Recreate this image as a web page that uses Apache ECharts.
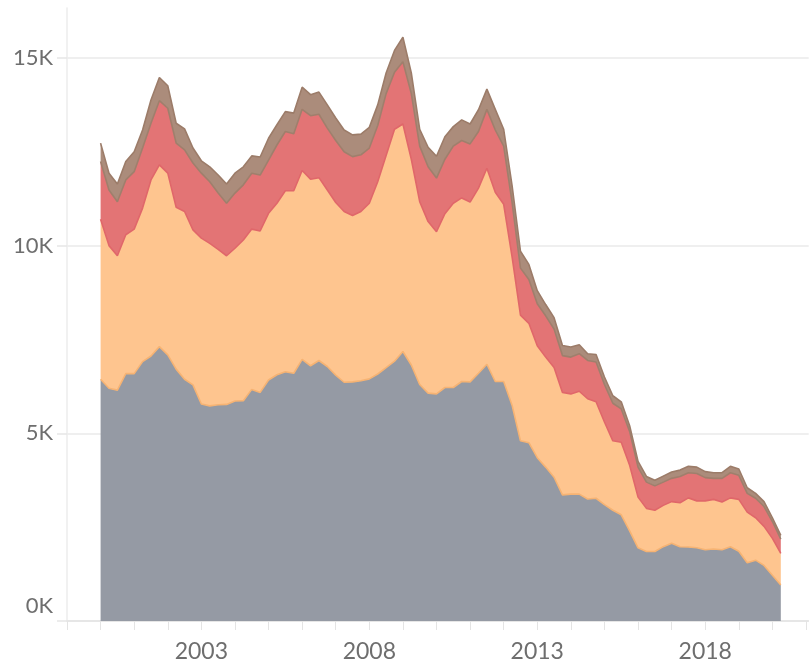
<!DOCTYPE html>
<html>
<head>
<meta charset="utf-8">
<script src="https://cdn.jsdelivr.net/npm/echarts@6/dist/echarts.min.js"></script>
<style>
html,body{margin:0;padding:0;background:#fff;}
#chart{width:809px;height:668px;}
</style>
</head>
<body>
<div id="chart"></div>
<script>
// Quarterly periods, 2000 Q1 .. 2020 Q2
const firstYear = 2000;
const quarterCount = 82;
const yTickLabels = ['0K', '5K', '10K', '15K'];
const xTickLabels = ['2003', '2008', '2013', '2018'];

const grayValues = [
  6440,6200,6150,6590,6590,6910,7060,7310,7090,6710,
  6440,6290,5780,5730,5760,5770,5860,5870,6170,6090,
  6420,6560,6640,6600,6970,6800,6940,6780,6550,6360,
  6370,6400,6450,6580,6750,6920,7180,6820,6300,6070,
  6050,6220,6220,6380,6370,6600,6840,6380,6380,5750,
  4800,4750,4350,4100,3830,3360,3380,3380,3250,3270,
  3100,2950,2830,2400,1950,1850,1850,1980,2070,1980,
  1970,1950,1900,1920,1900,1980,1860,1550,1620,1480,
  1220,960
];
const orangeValues = [
  4260,3800,3580,3700,3850,4090,4690,4840,4840,4310,
  4470,4130,4420,4330,4140,3960,4070,4280,4270,4300,
  4440,4570,4820,4860,5030,4970,4870,4700,4600,4550,
  4430,4510,4680,5120,5650,6180,6060,5480,4870,4570,
  4320,4630,4910,4890,4790,4930,5220,5040,4720,3950,
  3350,3180,2980,2930,2920,2730,2670,2740,2670,2570,
  2200,1850,1930,1750,1350,1150,1100,1100,1110,1170,
  1310,1250,1300,1320,1270,1300,1380,1350,1130,1040,
  980,840
];
const redValues = [
  1540,1480,1440,1460,1530,1600,1510,1710,1730,1710,
  1640,1780,1730,1640,1500,1400,1470,1470,1490,1490,
  1420,1550,1580,1520,1630,1690,1690,1650,1650,1590,
  1570,1510,1470,1500,1650,1520,1660,1750,1480,1460,
  1430,1450,1520,1530,1550,1510,1570,1660,1550,1450,
  1250,1170,1120,1100,1030,980,980,1000,1020,1060,
  1000,1000,890,900,800,700,650,620,620,700,
  670,730,620,560,630,670,640,500,520,530,
  450,380
];
const brownValues = [
  490,450,470,490,530,480,620,620,600,530,
  560,400,330,400,480,510,530,480,460,480,
  580,540,530,550,590,560,590,620,600,580,
  580,550,550,550,550,580,650,550,450,520,
  580,600,520,550,530,580,540,550,450,450,
  450,400,350,300,300,270,270,240,180,200,
  200,200,190,150,150,150,150,160,170,170,
  170,170,160,150,150,170,170,150,130,130,
  100,100
];

const xPos = [];
for (let i = 0; i < quarterCount; i++) xPos.push(firstYear + i / 4);
// value first so that stacking applies to the value dimension
const pair = arr => arr.map((v, i) => [v, xPos[i]]);

const labelFont = 'Lato, "Open Sans", sans-serif';
const chart = echarts.init(document.getElementById('chart'), null, {renderer: 'canvas'});

function mkSeries(name, data, fill, line) {
  return {
    name: name,
    type: 'line',
    stack: 'total',
    data: pair(data),
    encode: {x: 1, y: 0},
    symbol: 'none',
    showSymbol: false,
    smooth: false,
    lineStyle: {color: line, width: 1.6},
    areaStyle: {color: fill, opacity: 1},
    itemStyle: {color: fill},
    emphasis: {disabled: true},
    animation: false
  };
}

chart.setOption({
  animation: false,
  backgroundColor: '#ffffff',
  grid: {left: 67, right: 0, top: 8, bottom: 47, containLabel: false},
  xAxis: {
    type: 'value',
    min: 1999,
    max: 2021.08,
    interval: 1,
    axisLine: {show: true, lineStyle: {color: '#e4e4e4', width: 1.5}},
    axisTick: {show: true, length: 9, lineStyle: {color: '#e4e4e4', width: 1}},
    splitLine: {show: false},
    axisLabel: {
      margin: 19,
      color: '#6e6e6e',
      fontFamily: labelFont,
      fontSize: 23,
      showMaxLabel: false,
      formatter: v => {
        const s = String(Math.round(v));
        return (Math.abs(v - Math.round(v)) < 1e-6 && xTickLabels.indexOf(s) >= 0) ? s : '';
      }
    }
  },
  yAxis: {
    type: 'value',
    min: 0,
    max: 16330,
    interval: 5000,
    axisLine: {show: true, lineStyle: {color: '#ececec', width: 1.5}},
    axisTick: {show: true, length: 10, lineStyle: {color: '#e6e6e6', width: 1.5}},
    splitLine: {show: true, showMaxLine: false, lineStyle: {color: '#efefef', width: 2}},
    axisLabel: {
      margin: 14,
      color: '#6e6e6e',
      fontFamily: labelFont,
      fontSize: 22,
      showMaxLabel: false,
      formatter: v => {
        if (v % 5000 !== 0) return '';
        const lbl = yTickLabels[v / 5000];
        return v === 0 ? '{z|' + lbl + '}' : lbl;
      },
      rich: {z: {fontFamily: labelFont, fontSize: 22, color: '#6e6e6e', padding: [0, 0, 30, 0]}}
    }
  },
  series: [
    mkSeries('Gray', grayValues, '#959aa4', '#f6b373'),
    mkSeries('Orange', orangeValues, '#fec58f', '#e0676a'),
    mkSeries('Red', redValues, '#e37475', '#9f7f6c'),
    mkSeries('Brown', brownValues, '#ab8c7b', '#9c7c69')
  ]
});
</script>
</body>
</html>
